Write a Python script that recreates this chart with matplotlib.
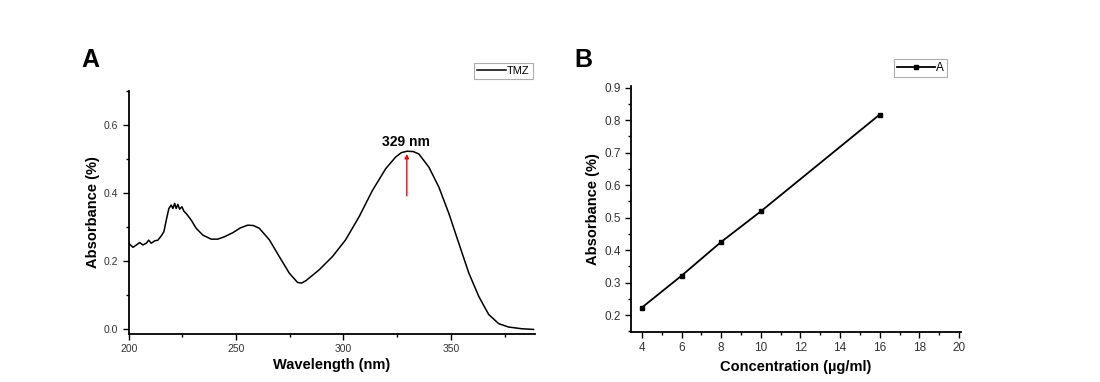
import numpy as np
import matplotlib
matplotlib.use("Agg")
import matplotlib.pyplot as plt
from matplotlib.ticker import MultipleLocator

plt.rcParams['font.family'] = ['Liberation Sans', 'DejaVu Sans']

# UV spectrum of TMZ
wavelength = [200, 202, 203.6, 205.1, 206.6, 208.2, 209.3, 210.5, 212.1, 213.6,
              215.2, 216.4, 217.5, 218.7, 219.8, 220.6, 221.4, 222.1, 222.9, 223.7,
              224.8, 225.7, 226.8, 229.1, 231.4, 234.5, 238.4, 241.5, 244.6, 248.5,
              252, 255.4, 258, 260.8, 265.5, 270.1, 274.8, 278.6, 280.5, 282.5,
              288.7, 294.9, 301, 307.3, 313.5, 319.7, 324.3, 327, 329.7, 332.5,
              335.1, 339.8, 344.4, 349.1, 353.7, 358.4, 363, 367.6, 372.3, 376.9,
              383.1, 388.5]
absorbance = [0.253, 0.241, 0.248, 0.255, 0.248, 0.253, 0.262, 0.253, 0.260, 0.262,
              0.275, 0.287, 0.321, 0.355, 0.365, 0.355, 0.370, 0.355, 0.367, 0.353,
              0.360, 0.347, 0.340, 0.321, 0.297, 0.277, 0.265, 0.265, 0.272, 0.284,
              0.298, 0.306, 0.305, 0.297, 0.263, 0.214, 0.165, 0.138, 0.136, 0.143,
              0.175, 0.214, 0.263, 0.331, 0.408, 0.472, 0.506, 0.519, 0.523, 0.522,
              0.515, 0.476, 0.418, 0.340, 0.253, 0.165, 0.097, 0.044, 0.017, 0.007,
              0.002, 0.000]

# calibration curve
concentration = [4, 6, 8, 10, 16]
calib_abs = [0.223, 0.321, 0.425, 0.519, 0.817]

tick_col = '#333333'


def style_axes(ax, labelsize):
    ax.spines['top'].set_visible(False)
    ax.spines['right'].set_visible(False)
    ax.spines['left'].set_linewidth(1.3)
    ax.spines['bottom'].set_linewidth(1.3)
    ax.tick_params(which='major', direction='out', length=4, width=1,
                   labelsize=labelsize, labelcolor=tick_col)
    ax.tick_params(which='minor', direction='out', length=2.5, width=1)


fig = plt.figure(figsize=(11, 3.82), dpi=100)

# panel A
axA = fig.add_axes([0.117, 0.126, 0.369, 0.636])
axA.plot(wavelength, absorbance, color='black', lw=1.1, label='TMZ')
axA.set_xlim(200, 389)
axA.set_ylim(-0.013, 0.7)
axA.xaxis.set_major_locator(MultipleLocator(50))
axA.xaxis.set_minor_locator(MultipleLocator(25))
axA.yaxis.set_major_locator(MultipleLocator(0.2))
axA.yaxis.set_minor_locator(MultipleLocator(0.1))
axA.yaxis.set_major_formatter(plt.FormatStrFormatter('%.1f'))
style_axes(axA, 7.5)
axA.set_xlabel('Wavelength (nm)', fontsize=10.5, fontweight='bold', labelpad=3)
axA.set_ylabel('Absorbance (%)', fontsize=10.5, fontweight='bold', labelpad=3)
axA.annotate('', xy=(329.5, 0.515), xytext=(329.5, 0.392),
             arrowprops=dict(arrowstyle='-|>', color='red', lw=1.0,
                             mutation_scale=6, shrinkA=0, shrinkB=0))
axA.text(329, 0.551, '329 nm', ha='center', va='center', fontsize=10,
         fontweight='bold')
legA = axA.legend(loc='upper right', bbox_to_anchor=(0.995, 1.115), fontsize=8,
                  frameon=True, fancybox=False, handlelength=2.6,
                  handletextpad=0.1, borderpad=0.25, borderaxespad=0)
legA.get_frame().set_edgecolor('#999999')
legA.get_frame().set_linewidth(0.8)
fig.text(0.082, 0.842, 'A', fontsize=18, fontweight='bold', ha='center', va='center')

# panel B
axB = fig.add_axes([0.5736, 0.131, 0.300, 0.644])
axB.plot(concentration, calib_abs, color='black', lw=1.3, marker='s',
         markersize=3.5, label='A')
axB.set_xlim(3.45, 20.1)
axB.set_ylim(0.148, 0.905)
axB.xaxis.set_major_locator(MultipleLocator(2))
axB.xaxis.set_minor_locator(MultipleLocator(1))
axB.yaxis.set_major_locator(MultipleLocator(0.1))
axB.yaxis.set_minor_locator(MultipleLocator(0.05))
axB.yaxis.set_major_formatter(plt.FormatStrFormatter('%.1f'))
style_axes(axB, 8.5)
axB.set_xlabel('Concentration (\u00b5g/ml)', fontsize=10.5, fontweight='bold', labelpad=4)
axB.set_ylabel('Absorbance (%)', fontsize=10.5, fontweight='bold', labelpad=3)
legB = axB.legend(loc='upper right', bbox_to_anchor=(0.958, 1.11), fontsize=8.5,
                  frameon=True, fancybox=False, handlelength=3.2,
                  handletextpad=0.15, borderpad=0.25, borderaxespad=0)
legB.get_frame().set_edgecolor('#999999')
legB.get_frame().set_linewidth(0.8)
fig.text(0.530, 0.842, 'B', fontsize=18, fontweight='bold', ha='center', va='center')

fig.savefig('out.png', dpi=100)
